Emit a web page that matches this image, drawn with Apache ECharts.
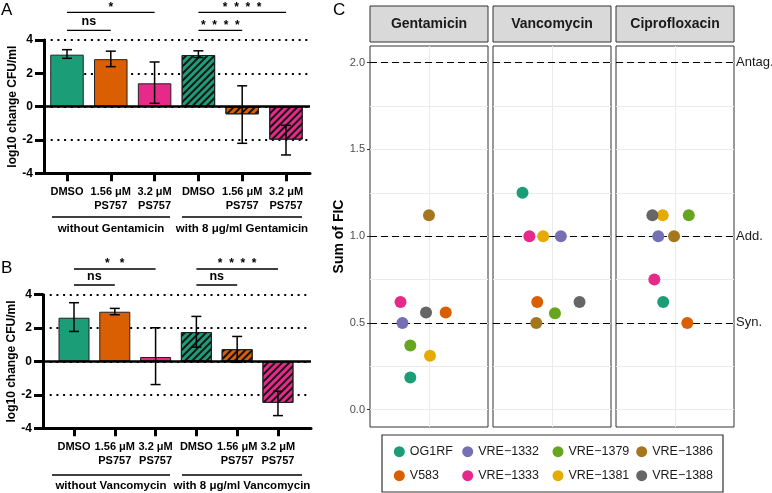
<!DOCTYPE html>
<html><head><meta charset="utf-8">
<script src="https://cdn.jsdelivr.net/npm/echarts@6/dist/echarts.min.js"></script>
<style>html,body{margin:0;padding:0;background:#fff}#chart{width:772px;height:493px}</style>
</head><body><div id="chart"></div>
<script>
// ---------- Panels A / B data ----------
const barCategories = ['DMSO', '1.56 μM\nPS757', '3.2 μM\nPS757', 'DMSO', '1.56 μM\nPS757', '3.2 μM\nPS757'];
const barPositions = [0, 1, 2, 3, 4, 5];
const barHatched = [false, false, false, true, true, true];
const gentMean = [3.12, 2.85, 1.40, 3.10, -0.46, -1.98];
const gentLow  = [2.90, 2.40, 0.20, 2.95, -2.20, -2.90];
const gentHigh = [3.42, 3.33, 2.68, 3.35, 1.25, -1.12];
const vancMean = [2.62, 2.98, 0.27, 1.76, 0.74, -2.48];
const vancLow  = [1.80, 2.80, -1.38, 0.86, -0.05, -3.24];
const vancHigh = [3.52, 3.18, 2.02, 2.70, 1.50, -1.78];
const groupLabelsA = ['without Gentamicin', 'with 8 μg/ml Gentamicin'];
const groupLabelsB = ['without Vancomycin', 'with 8 μg/ml Vancomycin'];
const sigFrom = [0, 0, 3, 3];
const sigTo   = [2, 1, 5, 4];
const sigRow  = [0, 1, 0, 1];
const sigTextA = ['*', 'ns', '*  *  *  *', '*  *  *  *'];
const sigTextB = ['*   *', 'ns', '*  *  *  *', 'ns'];

// ---------- Panel C data ----------
const strains = ['OG1RF', 'V583', 'VRE−1332', 'VRE−1333', 'VRE−1379', 'VRE−1381', 'VRE−1386', 'VRE−1388'];
const antibiotics = ['Gentamicin', 'Vancomycin', 'Ciprofloxacin'];
const ficGentamicin    = [0.185, 0.56, 0.50, 0.62, 0.37, 0.31, 1.12, 0.56];
const jitGentamicin    = [0.81, 1.17, 0.73, 0.71, 0.81, 1.01, 1.00, 0.97];
const ficVancomycin    = [1.25, 0.62, 1.00, 1.00, 0.555, 1.00, 0.50, 0.62];
const jitVancomycin    = [0.70, 0.85, 1.09, 0.77, 1.03, 0.91, 0.84, 1.28];
const ficCiprofloxacin = [0.62, 0.50, 1.00, 0.75, 1.12, 1.12, 1.00, 1.12];
const jitCiprofloxacin = [0.88, 1.125, 0.83, 0.79, 1.14, 0.875, 0.99, 0.77];
const ficRefLines  = [2.0, 1.0, 0.5];
const ficRefLabels = ['Antag.', 'Add.', 'Syn.'];
const ficTicks = [0, 0.5, 1.0, 1.5, 2.0];
const ficMinor = [0.25, 0.75, 1.25, 1.75];

// ---------- styles ----------
const FONT = 'Liberation Sans, Arial, Helvetica, sans-serif';
const barColors = ['#1b9e77', '#d95f02', '#e7298a', '#1b9e77', '#d95f02', '#e7298a'];
const strainColors = ['#1b9e77', '#d95f02', '#7570b3', '#e7298a', '#66a61e', '#e6ab02', '#a6761d', '#666666'];
const hatch = { symbol: 'rect', symbolSize: 1, dashArrayX: [1, 0], dashArrayY: [1.4, 3], rotation: -Math.PI / 4, color: '#111' };

const chart = echarts.init(document.getElementById('chart'), null, { renderer: 'canvas' });

const barGrids = [
  { left: 44, top: 40, width: 266, height: 133.3, xmin: -0.525, xmax: 5.548, barW: 33.5 },
  { left: 43, top: 294.7, width: 268, height: 133.6, xmin: -0.76, xmax: 5.81, barW: 31 }
];
const cGrids = [370, 493, 616];
const cTop = 46, cH = 381, cW = 118;

const grid = [], xAxis = [], yAxis = [], series = [];
barGrids.forEach((g, k) => {
  grid.push({ left: g.left, top: g.top, width: g.width, height: g.height });
  xAxis.push({
    type: 'value', gridIndex: k, min: g.xmin, max: g.xmax,
    axisLine: { show: true, onZero: false, lineStyle: { color: '#000', width: 3 } },
    axisTick: { show: true, customValues: barPositions, length: 8, lineStyle: { color: '#000', width: 3 } },
    axisLabel: { customValues: barPositions, formatter: v => barCategories[Math.round(v)], color: '#000',
      fontFamily: FONT, fontWeight: 'bold', fontSize: 11, lineHeight: 14, margin: 12 },
    splitLine: { show: false }
  });
  yAxis.push({
    type: 'value', gridIndex: k, min: -4, max: 4, interval: 2,
    axisLine: { show: true, onZero: false, lineStyle: { color: '#000', width: 3 } },
    axisTick: { show: true, length: 9, lineStyle: { color: '#000', width: 3 } },
    axisLabel: { color: '#000', fontFamily: FONT, fontWeight: 'bold', fontSize: 12, margin: 11 },
    splitLine: { show: true, lineStyle: { color: '#000', width: 2, type: [2, 4.7] } },
    name: 'log10 change CFU/ml', nameLocation: 'middle', nameGap: 24, nameRotate: 90,
    nameTextStyle: { color: '#000', fontFamily: FONT, fontWeight: 'bold', fontSize: 12 }
  });
  const mean = k === 0 ? gentMean : vancMean;
  const lo = k === 0 ? gentLow : vancLow;
  const hi = k === 0 ? gentHigh : vancHigh;
  series.push({
    type: 'bar', xAxisIndex: k, yAxisIndex: k, barWidth: g.barW, z: 2,
    data: mean.map((m, i) => ({ value: [barPositions[i], m],
      itemStyle: { color: barColors[i], borderColor: '#222', borderWidth: 1, decal: barHatched[i] ? hatch : null } })),
    markLine: { silent: true, symbol: ['none', 'none'], label: { show: false }, z: 4,
      lineStyle: { color: '#000', width: 2.5, type: 'solid' }, data: [{ yAxis: 0 }] }
  });
  series.push({
    type: 'custom', xAxisIndex: k, yAxisIndex: k, z: 5,
    data: mean.map((m, i) => [barPositions[i], lo[i], hi[i]]),
    encode: { x: 0, y: [1, 2] },
    renderItem: (params, api) => {
      const x = api.value(0);
      const a = api.coord([x, api.value(2)]), b = api.coord([x, api.value(1)]);
      const hw = 5, st = { stroke: '#000', lineWidth: 1.5 };
      return { type: 'group', children: [
        { type: 'line', shape: { x1: a[0], y1: a[1], x2: b[0], y2: b[1] }, style: st },
        { type: 'line', shape: { x1: a[0] - hw, y1: a[1], x2: a[0] + hw, y2: a[1] }, style: st },
        { type: 'line', shape: { x1: b[0] - hw, y1: b[1], x2: b[0] + hw, y2: b[1] }, style: st }
      ] };
    }
  });
});

const ficValues = [ficGentamicin, ficVancomycin, ficCiprofloxacin];
const ficJitter = [jitGentamicin, jitVancomycin, jitCiprofloxacin];
cGrids.forEach((left, g) => {
  const gi = 2 + g;
  grid.push({ left: left, top: cTop, width: cW, height: cH, show: true, borderColor: '#333', borderWidth: 1, backgroundColor: 'transparent' });
  xAxis.push({ type: 'value', gridIndex: gi, min: 0.4, max: 1.6, show: false });
  yAxis.push({
    type: 'value', gridIndex: gi, min: -0.1, max: 2.096, show: g === 0,
    axisLine: { show: false },
    axisTick: { show: true, customValues: ficTicks, length: 3, lineStyle: { color: '#333' } },
    axisLabel: { customValues: ficTicks, formatter: v => v.toFixed(1), color: '#4d4d4d', fontFamily: FONT, fontSize: 11, margin: 5 },
    splitLine: { show: false },
    name: g === 0 ? 'Sum of FIC' : '', nameLocation: 'middle', nameGap: 24, nameRotate: 90,
    nameTextStyle: { color: '#000', fontFamily: FONT, fontWeight: 'bold', fontSize: 14 }
  });
  // panel grid lines
  series.push({
    type: 'scatter', xAxisIndex: gi, yAxisIndex: gi, data: [], z: 1, silent: true,
    markLine: { silent: true, z: 1, symbol: ['none', 'none'], label: { show: false }, animation: false,
      lineStyle: { color: '#ebebeb', width: 1, type: 'solid' },
      data: ficTicks.map(v => ({ yAxis: v })).concat(ficMinor.map(v => ({ yAxis: v }))).concat([{ xAxis: 1 }]) }
  });
  // reference lines
  series.push({
    type: 'scatter', xAxisIndex: gi, yAxisIndex: gi, data: [], z: 2, silent: true,
    markLine: { silent: true, z: 2, symbol: ['none', 'none'], animation: false,
      lineStyle: { color: '#000', width: 1.2, type: [7, 4] },
      label: { show: g === 2, position: 'end', distance: 2, color: '#1a1a1a', fontFamily: FONT, fontSize: 13,
        formatter: p => ficRefLabels[ficRefLines.indexOf(p.value)] },
      data: ficRefLines.map(v => ({ yAxis: v })) }
  });
  strains.forEach((s, i) => {
    series.push({
      type: 'scatter', name: s, xAxisIndex: gi, yAxisIndex: gi, z: 6, symbolSize: 12,
      itemStyle: { color: strainColors[i], opacity: 1 },
      data: [[ficJitter[g][i], ficValues[g][i]]]
    });
  });
});

const legendCols = [400.3, 468.7, 559, 642.7];
const legend = legendCols.map((cx, c) => ({
  data: [strains[2 * c], strains[2 * c + 1]], orient: 'vertical', left: cx - 6.5, top: 444.7, padding: 0,
  icon: 'circle', itemWidth: 11, itemHeight: 11, itemGap: 10, selectedMode: false,
  textStyle: { color: '#1a1a1a', fontFamily: FONT, fontSize: 12.5, lineHeight: 14 }
}));

chart.setOption({
  animation: false,
  textStyle: { fontFamily: FONT },
  grid, xAxis, yAxis, series, legend
});

// ---------- annotations ----------
const G = [];
function T(x, y, s, o) { G.push({ type: 'text', x, y, silent: true, style: Object.assign({ text: s, fill: '#000', fontFamily: FONT, fontSize: 12, fontWeight: 'bold', align: 'center', verticalAlign: 'middle' }, o || {}) }); }
function L(x1, y1, x2, y2, w) { G.push({ type: 'line', silent: true, shape: { x1, y1, x2, y2 }, style: { stroke: '#000', lineWidth: w || 1.3 } }); }

T(1, 2, 'A', { align: 'left', verticalAlign: 'top', fontSize: 17, fontWeight: 'normal' });
T(1, 260, 'B', { align: 'left', verticalAlign: 'top', fontSize: 17, fontWeight: 'normal' });
T(333, 2, 'C', { align: 'left', verticalAlign: 'top', fontSize: 17, fontWeight: 'normal' });

const sigRowY = [[12.3, 30.3], [269, 285]];
const groupY = [[217, 228.5], [475, 486]];
[sigTextA, sigTextB].forEach((texts, k) => {
  texts.forEach((t, j) => {
    const a = chart.convertToPixel({ gridIndex: k }, [sigFrom[j], 0]);
    const b = chart.convertToPixel({ gridIndex: k }, [sigTo[j], 0]);
    const y = sigRowY[k][sigRow[j]];
    L(a[0], y, b[0], y, 1.3);
    const star = t.indexOf('*') >= 0;
    T((a[0] + b[0]) / 2, star ? y - 5 : y - 8.5, t, { fontSize: star ? 12 : 12.5 });
  });
  const labels = k === 0 ? groupLabelsA : groupLabelsB;
  const spans = [[52, 170], [182, 302]];
  spans.forEach((sp, j) => {
    L(sp[0], groupY[k][0], sp[1], groupY[k][0], 1.5);
    T((sp[0] + sp[1]) / 2, groupY[k][1], labels[j], { fontSize: 11.5 });
  });
});

cGrids.forEach((left, g) => {
  G.push({ type: 'rect', silent: true, shape: { x: left, y: 6, width: cW, height: 36 }, style: { fill: '#d9d9d9', stroke: '#333', lineWidth: 1 } });
  T(left + cW / 2, 24, antibiotics[g], { fontSize: 14, fill: '#1a1a1a' });
});
G.push({ type: 'rect', silent: true, z: -1, shape: { x: 382, y: 435, width: 341, height: 57 }, style: { fill: 'none', stroke: '#333', lineWidth: 1.2 } });

chart.setOption({ graphic: G });
</script></body></html>
